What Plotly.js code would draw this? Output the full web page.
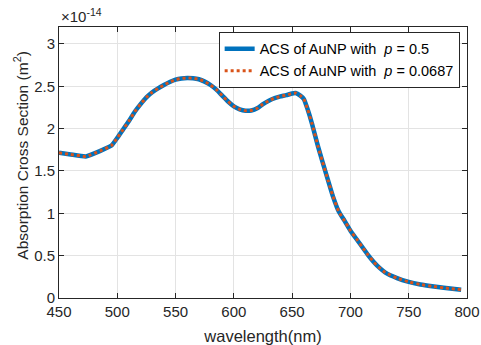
<!DOCTYPE html>
<html>
<head>
<meta charset="utf-8">
<script src="https://cdn.plot.ly/plotly-3.0.1.min.js"></script>
<style>html,body{margin:0;padding:0;background:#fff;}#chart{width:481px;height:345px;}</style>
</head>
<body>
<div id="chart"></div>
<script>
// wavelength in nm
const wavelength = [450, 460, 473, 485, 495, 500, 505, 510, 515, 520, 525, 530, 535, 540, 545, 550, 555, 560, 565, 570, 575, 580, 585, 590, 595, 600, 605, 610, 615, 620, 625, 630, 635, 640, 645, 650, 653, 657, 660, 663, 667, 672, 676, 681, 685, 690, 695, 700, 705, 710, 715, 720, 725, 730, 740, 750, 760, 770, 780, 795];
// absorption cross section in units of 1e-14 m^2
const acsP05 = [1.715, 1.695, 1.672, 1.735, 1.80, 1.89, 1.99, 2.09, 2.20, 2.29, 2.37, 2.43, 2.475, 2.515, 2.55, 2.578, 2.593, 2.598, 2.595, 2.583, 2.555, 2.515, 2.46, 2.39, 2.32, 2.263, 2.228, 2.212, 2.215, 2.24, 2.29, 2.33, 2.36, 2.38, 2.395, 2.415, 2.42, 2.39, 2.35, 2.24, 2.06, 1.80, 1.61, 1.38, 1.20, 1.02, 0.91, 0.795, 0.70, 0.605, 0.51, 0.425, 0.355, 0.30, 0.235, 0.19, 0.16, 0.138, 0.12, 0.098];
const acsP0687 = [1.715, 1.695, 1.672, 1.735, 1.80, 1.89, 1.99, 2.09, 2.20, 2.29, 2.37, 2.43, 2.475, 2.515, 2.55, 2.578, 2.593, 2.598, 2.595, 2.583, 2.555, 2.515, 2.46, 2.39, 2.32, 2.263, 2.228, 2.212, 2.215, 2.24, 2.29, 2.33, 2.36, 2.38, 2.395, 2.415, 2.42, 2.39, 2.35, 2.24, 2.06, 1.80, 1.61, 1.38, 1.20, 1.02, 0.91, 0.795, 0.70, 0.605, 0.51, 0.425, 0.355, 0.30, 0.235, 0.19, 0.16, 0.138, 0.12, 0.098];
const seriesNames = ["ACS of AuNP with\u00a0\u00a0<i>p</i> = 0.5", "ACS of AuNP with\u00a0\u00a0<i>p</i> = 0.0687"];
const xTicks = [450, 500, 550, 600, 650, 700, 750, 800];
const yTicks = [0, 0.5, 1, 1.5, 2, 2.5, 3];

const axisColor = '#262626';
const fam = 'Arial, "Liberation Sans", sans-serif';

const traces = [
  {x: wavelength, y: acsP05, type: 'scatter', mode: 'lines', name: seriesNames[0],
   line: {color: '#0072BD', width: 4.5, shape: 'spline', smoothing: 0.4}},
  {x: wavelength, y: acsP0687, type: 'scatter', mode: 'lines', name: seriesNames[1],
   line: {color: '#D95319', width: 3, dash: 'dot', shape: 'spline', smoothing: 0.4}}
];

const layout = {
  width: 481, height: 345,
  margin: {l: 59, r: 14, t: 27, b: 47},
  paper_bgcolor: '#fff', plot_bgcolor: '#fff',
  font: {family: fam, size: 15, color: axisColor},
  showlegend: true,
  legend: {x: 0.982, y: 0.982, xanchor: 'right', yanchor: 'top',
    bgcolor: '#fff', bordercolor: '#262626', borderwidth: 1,
    font: {family: fam, size: 14.5, color: '#000'}, tracegroupgap: 0},
  xaxis: {
    range: [450, 800], tickvals: xTicks, ticktext: xTicks.map(String),
    ticks: 'inside', ticklen: 5, tickcolor: axisColor, mirror: 'ticks',
    showline: true, linecolor: axisColor, linewidth: 1,
    showgrid: true, gridcolor: '#e3e3e3', zeroline: false,
    title: {text: 'wavelength(nm)', font: {size: 16.5, color: axisColor}, standoff: 11},
    tickfont: {size: 15, color: axisColor}
  },
  yaxis: {
    range: [0, 3.2], tickvals: yTicks,
    ticks: 'inside', ticklen: 5, tickcolor: axisColor, mirror: 'ticks',
    showline: true, linecolor: axisColor, linewidth: 1,
    showgrid: true, gridcolor: '#e3e3e3', zeroline: false,
    tickfont: {size: 15, color: axisColor}
  },
  annotations: [{
    xref: 'paper', yref: 'paper', x: 0, y: 1, xanchor: 'left', yanchor: 'bottom',
    text: '\u00d710<sup>-14</sup>', showarrow: false,
    font: {size: 15, color: axisColor}
  }, {
    xref: 'paper', yref: 'paper', x: -0.092, y: 0.527, xanchor: 'center', yanchor: 'middle',
    text: 'Absorption Cross Section (m<sup>2</sup>)', textangle: -90, showarrow: false,
    font: {size: 15.5, color: axisColor}
  }]
};

Plotly.newPlot('chart', traces, layout, {displayModeBar: false, staticPlot: true});
</script>
</body>
</html>
